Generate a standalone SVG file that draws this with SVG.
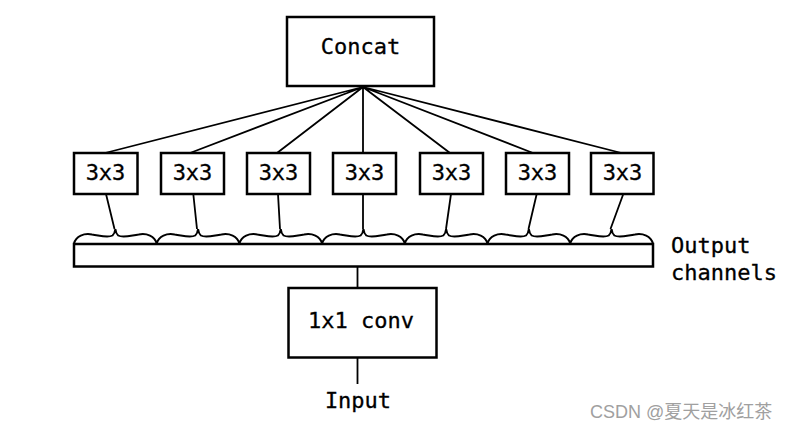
<svg xmlns="http://www.w3.org/2000/svg" width="793" height="428" viewBox="0 0 793 428">
<style>
.box{fill:#fff;stroke:#000;stroke-width:2.5}
.ln{fill:none;stroke:#000;stroke-width:1.8}
.br{fill:none;stroke:#000;stroke-width:2}
.t{font-family:"DejaVu Sans Mono","Liberation Mono",monospace;font-size:22px;fill:#000;stroke:#000;stroke-width:0.3;text-anchor:middle}
.tl{font-family:"DejaVu Sans Mono","Liberation Mono",monospace;font-size:22px;fill:#000;stroke:#000;stroke-width:0.3}
.wm{font-family:"Liberation Sans","Noto Sans CJK SC",sans-serif;font-size:18px;fill:#a0a0a0}
</style>
<defs>
<path id="brace" class="br" d="M0,243.5 C2,236 10,233 18,234.5 C28,236 34,238 38.5,235.5 Q40.8,233.5 41.35,229 Q41.9,233.5 44.2,235.5 C48.7,238 54.7,236 64.7,234.5 C72.7,233 80.7,236 82.7,243.5"/>
</defs>
<rect width="793" height="428" fill="#fff"/>
<g id="connectors">
<path class="ln" d="M363,87 L105,153 M363,87 L190,153 M363,87 L277,153 M363,87 L363,153 M363,87 L450,153 M363,87 L533,153 M363,87 L621.5,153"/>
<path class="ln" d="M106,194 L114.5,229 M193.3,194 L197,229 M278,194 L280,229 M363,194 L363,229 M451,194 L446,229 M536.7,194 L528.5,229 M623.3,194 L610.5,229"/>
<path class="ln" d="M357.5,266 L357.5,288 M357.5,358 L357.5,384"/>
</g>
<g id="braces">
<use href="#brace" transform="translate(74,0)"/>
<use href="#brace" transform="translate(156.7,0)"/>
<use href="#brace" transform="translate(239.4,0)"/>
<use href="#brace" transform="translate(322.1,0)"/>
<use href="#brace" transform="translate(404.8,0)"/>
<use href="#brace" transform="translate(487.5,0)"/>
<use href="#brace" transform="translate(570.2,0)"/>
</g>
<g id="concat"><rect class="box" x="287" y="17" width="147" height="69"/><text class="t" x="360.5" y="54">Concat</text></g>
<g id="conv3x3_1"><rect class="box" x="74" y="153" width="63.5" height="41"/><text class="t" x="105.5" y="180">3x3</text></g>
<g id="conv3x3_2"><rect class="box" x="161" y="153" width="63" height="41"/><text class="t" x="192.5" y="180">3x3</text></g>
<g id="conv3x3_3"><rect class="box" x="247" y="153" width="63" height="41"/><text class="t" x="278.5" y="180">3x3</text></g>
<g id="conv3x3_4"><rect class="box" x="333" y="153" width="63" height="41"/><text class="t" x="364.5" y="180">3x3</text></g>
<g id="conv3x3_5"><rect class="box" x="420" y="153" width="63" height="41"/><text class="t" x="451.5" y="180">3x3</text></g>
<g id="conv3x3_6"><rect class="box" x="506" y="153" width="63" height="41"/><text class="t" x="537.5" y="180">3x3</text></g>
<g id="conv3x3_7"><rect class="box" x="591" y="153" width="62.5" height="41"/><text class="t" x="622.5" y="180">3x3</text></g>
<g id="channels"><rect class="box" x="74" y="244" width="579" height="22.5"/><text class="tl" x="671" y="253">Output</text><text class="tl" x="671" y="280">channels</text></g>
<g id="conv1x1"><rect class="box" x="288.5" y="288" width="148" height="69.5"/><text class="t" x="361" y="328">1x1 conv</text></g>
<g id="input"><text class="t" x="358" y="408">Input</text></g>
<text class="wm" x="590" y="418">CSDN @夏天是冰红茶</text>
</svg>
